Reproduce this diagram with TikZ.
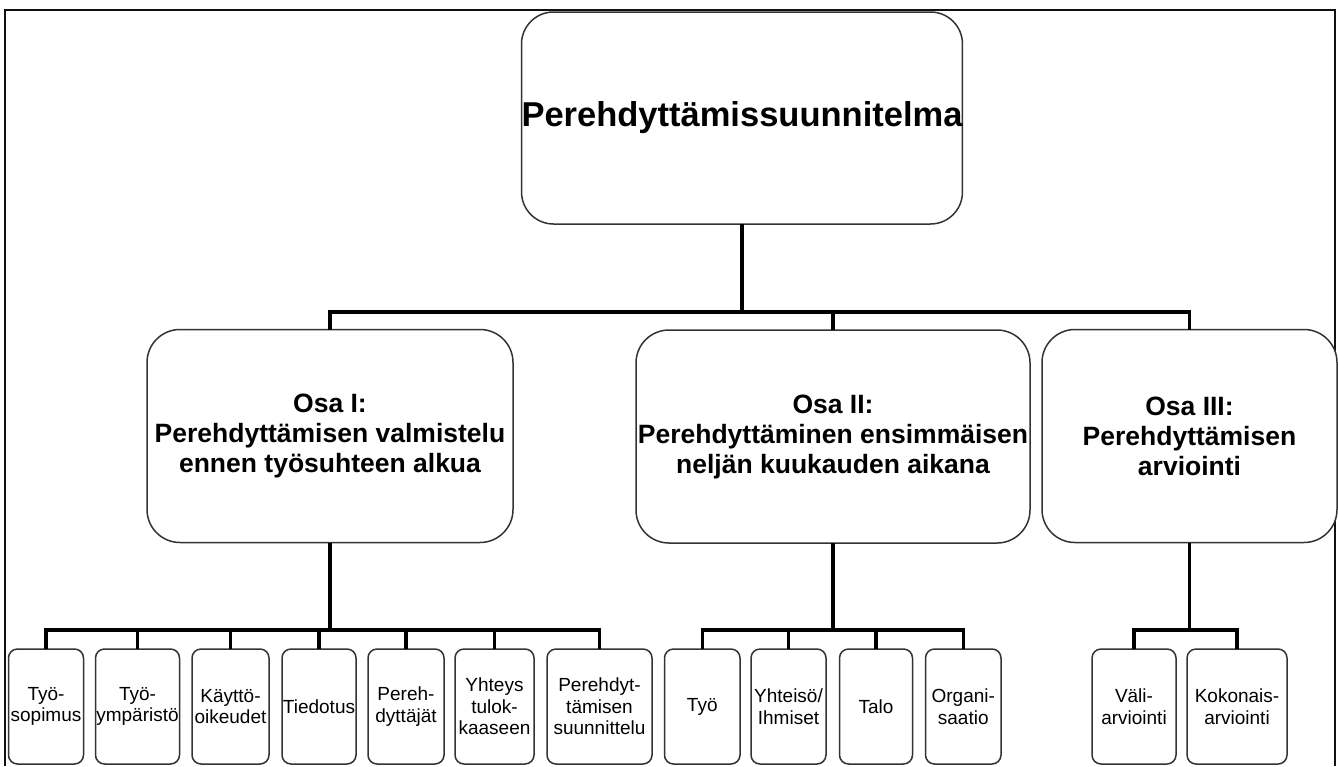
\documentclass[tikz,border=0pt]{standalone}
\usepackage{fontspec}
\setmainfont{Liberation Sans}
\usepackage{xcolor}
\usepackage{tikz}
\usetikzlibrary{positioning,calc}
\definecolor{pkink}{HTML}{000000}
\definecolor{pkline}{HTML}{333333}
\definecolor{pkframe}{HTML}{111111}
\tikzset{
  rootbox/.style={rectangle,rounded corners=32pt,draw=pkline,line width=1.5pt,
                  fill=white,minimum width=440pt,minimum height=212pt,inner sep=0pt,
                  outer sep=0pt,align=center,text=pkink,
                  font=\fontsize{34.5}{36}\selectfont\bfseries},
  osabox/.style={rectangle,rounded corners=33pt,draw=pkline,line width=1.5pt,
                 fill=white,minimum height=213pt,inner sep=0pt,outer sep=0pt,
                 align=center,text=pkink,font=\fontsize{26.5}{30}\selectfont\bfseries},
  leafbox/.style={rectangle,rounded corners=9pt,draw=pkline,line width=1.5pt,
                  fill=white,minimum height=115pt,inner sep=0pt,outer sep=0pt,
                  align=center,text=pkink,font=\fontsize{19}{21.5}\selectfont},
  link/.style={line width=3.4pt,draw=black},
  frame/.style={line width=2.4pt,draw=pkframe},
}
\begin{document}
\begin{tikzpicture}[x=1pt,y=-1pt]
  \useasboundingbox (0,0) rectangle (1338,766);
  \draw[frame] (5,766) -- (5,10) -- (1335,10) -- (1335,766);
  % top level
  \node[rootbox] (root) at (742,118) {Perehdyttämissuunnitelma};
  \node[osabox,minimum width=366pt] (osa1) at (330,436)
    {Osa I:\\Perehdyttämisen valmistelu\\ennen työsuhteen alkua};
  \node[osabox,minimum width=394pt] (osa2) at (833,436.5)
    {Osa II:\\Perehdyttäminen ensimmäisen\\neljän kuukauden aikana};
  \node[osabox,minimum width=295pt] (osa3) at (1189.5,436)
    {Osa III:\\Perehdyttämisen\\arviointi};
  % leaves of Osa I
  \node[leafbox,minimum width=75pt,anchor=west] (l1) at (8.5,706.5) {Työ-\\sopimus};
  \node[leafbox,minimum width=84pt,right=12pt of l1] (l2) {Työ-\\ympäristö};
  \node[leafbox,minimum width=77pt,right=12.5pt of l2] (l3) {Käyttö-\\oikeudet};
  \node[leafbox,minimum width=74pt,right=13pt of l3] (l4) {Tiedotus};
  \node[leafbox,minimum width=76pt,right=12pt of l4] (l5) {Pereh-\\dyttäjät};
  \node[leafbox,minimum width=79pt,right=11pt of l5] (l6) {Yhteys\\tulok-\\kaaseen};
  \node[leafbox,minimum width=105pt,right=13pt of l6] (l7) {Perehdyt-\\tämisen\\suunnittelu};
  % leaves of Osa II
  \node[leafbox,minimum width=75.5pt,right=12.5pt of l7] (m1) {Työ};
  \node[leafbox,minimum width=75pt,right=11pt of m1] (m2) {Yhteisö/\\Ihmiset};
  \node[leafbox,minimum width=73pt,right=13.5pt of m2] (m3) {Talo};
  \node[leafbox,minimum width=75.5pt,right=13pt of m3] (m4) {Organi-\\saatio};
  % leaves of Osa III
  \node[leafbox,minimum width=84pt,anchor=west] (r1) at (1092,706.5) {Väli-\\arviointi};
  \node[leafbox,minimum width=100pt,right=11pt of r1] (r2) {Kokonais-\\arviointi};
  % connectors
  \coordinate (bus0) at (0,312);
  \coordinate (bus1) at (0,630);
  \draw[link] (root.south) -- (root.south |- bus0);
  \draw[link] (osa1.north) |- (osa3.north |- bus0) -- (osa3.north);
  \draw[link] (osa2.north) -- (osa2.north |- bus0);
  \draw[link] (osa1.south) -- (osa1.south |- bus1);
  \draw[link] (l1.north) |- (l7.north |- bus1) -- (l7.north);
  \foreach \n in {l2,l3,l4,l5,l6}
    \draw[link] (\n.north) -- (\n.north |- bus1);
  \draw[link] (osa2.south) -- (osa2.south |- bus1);
  \draw[link] (m1.north) |- (m4.north |- bus1) -- (m4.north);
  \foreach \n in {m2,m3}
    \draw[link] (\n.north) -- (\n.north |- bus1);
  \draw[link] (osa3.south) -- (osa3.south |- bus1);
  \draw[link] (r1.north) |- (r2.north |- bus1) -- (r2.north);
\end{tikzpicture}
\end{document}
